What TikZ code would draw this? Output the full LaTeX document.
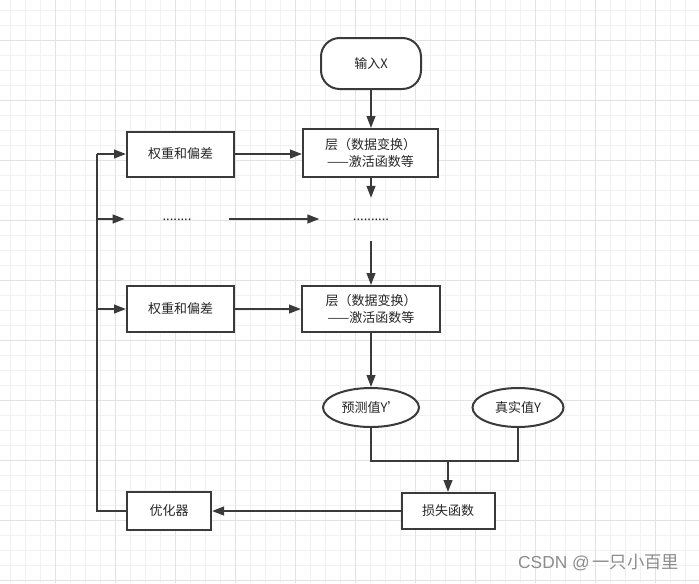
\documentclass[tikz,border=0pt]{standalone}
\usepackage{fontspec}
\setmainfont{Noto Sans CJK SC}
\setsansfont{Liberation Sans}
\usetikzlibrary{shapes.geometric,arrows.meta}
\definecolor{ln}{HTML}{3A3A3A}
\definecolor{gminor}{HTML}{F1F1F1}
\definecolor{gmajor}{HTML}{E2E2E2}
\tikzset{
  every node/.style={font=\fontsize{9.75pt}{12.5pt}\selectfont, text=black!85},
  boxn/.style={draw=ln, line width=1.5pt, rectangle, inner sep=0pt, fill=white},
  ovaln/.style={draw=ln, line width=1.5pt, ellipse, inner sep=0pt, fill=white},
  ghost/.style={inner sep=0pt},
  conn/.style={draw=ln, line width=1.5pt},
  arr/.style={conn, -{Triangle[length=9pt,width=6.5pt]}},
}
\begin{document}
\begin{tikzpicture}[x=0.75pt,y=-0.75pt]
\useasboundingbox (0,0) rectangle (699,583);
\fill[white] (0,0) rectangle (699,583);
% grid
\foreach \gx in {10,25,...,699} \draw[gminor, line width=0.75pt] (\gx,0) -- (\gx,583);
\foreach \gy in {10,25,...,583} \draw[gminor, line width=0.75pt] (0,\gy) -- (699,\gy);
\foreach \gx in {55,115,...,699} \draw[gmajor, line width=0.75pt] (\gx,0) -- (\gx,583);
\foreach \gy in {40,100,...,583} \draw[gmajor, line width=0.75pt] (0,\gy) -- (699,\gy);

% nodes
\node[boxn, rounded corners=14pt, minimum width=75pt, minimum height=38.25pt] (in) at (371,63.5) {输入X};
\node[boxn, minimum width=101.25pt, minimum height=36pt, align=center] (L1) at (370.5,153) {层（数据变换）\\——激活函数等};
\node[boxn, minimum width=80.25pt, minimum height=33.75pt] (W1) at (180.5,154) {权重和偏差};
\node[ghost, minimum width=78pt, minimum height=32pt] (D1) at (177,220) {........};
\node[ghost, minimum width=77pt, minimum height=32pt] (D2) at (371,219.5) {..........};
\node[boxn, minimum width=103.5pt, minimum height=34.5pt, align=center] (L2) at (371,309) {层（数据变换）\\——激活函数等};
\node[boxn, minimum width=80.25pt, minimum height=34.5pt] (W2) at (180.5,309) {权重和偏差};
\node[ovaln, minimum width=72pt, minimum height=29.25pt] (P) at (371,407.5) {预测值Y'};
\node[ovaln, minimum width=68.25pt, minimum height=29.25pt] (T) at (518,407.5) {真实值Y};
\node[boxn, minimum width=69.75pt, minimum height=27pt] (Loss) at (448,511) {损失函数};
\node[boxn, minimum width=63pt, minimum height=28.5pt] (Opt) at (169,511) {优化器};
\node[anchor=east, text=black!45, font=\sffamily\fontsize{13pt}{15pt}\selectfont] (wm) at (684,563) {CSDN @\,{\fontspec{Noto Sans CJK SC}一只小百里}};

\coordinate (sp) at (97,154);
\coordinate (m) at (448,461);

% connectors
\draw[arr] (in.south) -- (L1.north -| in.south);
\draw[arr] (L1.south -| in.south) -- (D2.north);
\draw[arr] (D2.south) -- (L2.north);
\draw[arr] (L2.south) -- (P.north);
\draw[arr] (W1.east) -- (W1.east -| L1.west);
\draw[arr] (D1.east |- 0,219) -- (D2.west |- 0,219);
\draw[arr] (W2.east) -- (L2.west);
\draw[conn] (P.south) |- (m);
\draw[conn] (T.south) |- (m);
\draw[arr] (m) -- (Loss.north);
\draw[arr] (Loss.west) -- (Opt.east);
\draw[conn] (Opt.west) -| (sp);
\draw[arr] (sp) -- (W1.west);
\draw[arr] (sp |- 0,219) -- (D1.west |- 0,219);
\draw[arr] (sp |- W2) -- (W2.west);
\end{tikzpicture}
\end{document}
